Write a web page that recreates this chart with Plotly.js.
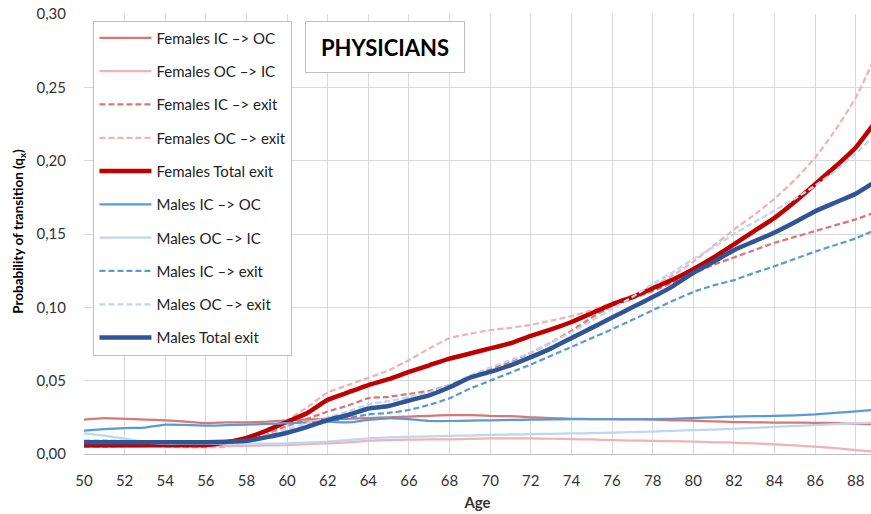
<!DOCTYPE html>
<html><head><meta charset="utf-8">
<script src="https://cdn.plot.ly/plotly-3.0.1.min.js"></script>
<style>html,body{margin:0;padding:0;background:#fff}#chart{width:871px;height:514px}</style>
</head><body><div id="chart"></div>
<script>
const ages = [50,51,52,53,54,55,56,57,58,59,60,61,62,63,64,65,66,67,68,69,70,71,72,73,74,75,76,77,78,79,80,81,82,83,84,85,86,87,88,89];
const xTicks = [50,52,54,56,58,60,62,64,66,68,70,72,74,76,78,80,82,84,86,88];
const seriesNames = ["Females IC –> OC","Females OC –> IC","Females IC –> exit","Females OC –> exit","Females Total exit","Males IC –> OC","Males OC –> IC","Males IC –> exit","Males OC –> exit","Males Total exit"];
const fIcOc = [0.0235,0.0245,0.024,0.0235,0.023,0.022,0.021,0.0215,0.0215,0.022,0.023,0.0235,0.024,0.024,0.0245,0.025,0.0255,0.026,0.0265,0.0265,0.026,0.0258,0.025,0.0245,0.024,0.0238,0.0237,0.0236,0.0235,0.023,0.0227,0.0222,0.0218,0.0216,0.0214,0.0214,0.0213,0.021,0.0205,0.0204];
const fOcIc = [0.005,0.005,0.005,0.0052,0.0055,0.0055,0.0055,0.0055,0.0056,0.0058,0.006,0.0067,0.0073,0.008,0.009,0.0095,0.0098,0.0099,0.01,0.0103,0.0107,0.0107,0.0106,0.0104,0.0102,0.0099,0.0095,0.0092,0.009,0.0087,0.0084,0.008,0.0077,0.0072,0.0066,0.0058,0.005,0.004,0.0027,0.0015];
const fIcEx = [0.005,0.005,0.0055,0.006,0.006,0.006,0.0065,0.0075,0.010,0.014,0.019,0.024,0.029,0.033,0.038,0.039,0.041,0.043,0.047,0.053,0.058,0.063,0.069,0.076,0.084,0.093,0.101,0.106,0.111,0.117,0.123,0.129,0.134,0.139,0.144,0.148,0.152,0.156,0.160,0.165];
const fOcEx = [0.007,0.007,0.007,0.006,0.005,0.0045,0.0045,0.005,0.009,0.014,0.023,0.032,0.042,0.047,0.052,0.057,0.064,0.072,0.079,0.082,0.0845,0.086,0.088,0.091,0.094,0.098,0.103,0.108,0.114,0.122,0.131,0.142,0.153,0.163,0.174,0.187,0.202,0.221,0.243,0.272];
const fTot = [0.006,0.006,0.006,0.006,0.006,0.006,0.006,0.008,0.011,0.016,0.022,0.028,0.037,0.042,0.047,0.051,0.056,0.0605,0.065,0.0685,0.072,0.0755,0.0805,0.085,0.090,0.096,0.102,0.107,0.113,0.119,0.126,0.134,0.143,0.152,0.161,0.172,0.184,0.196,0.209,0.227];
const mIcOc = [0.016,0.017,0.0177,0.018,0.020,0.0198,0.0193,0.0197,0.020,0.0205,0.021,0.0215,0.022,0.0215,0.0232,0.0243,0.0238,0.0225,0.0225,0.0228,0.023,0.0232,0.0234,0.0236,0.0237,0.0237,0.0237,0.0237,0.0238,0.024,0.0245,0.025,0.0255,0.0258,0.026,0.0264,0.027,0.028,0.029,0.0302];
const mOcIc = [0.014,0.0125,0.0105,0.008,0.007,0.007,0.007,0.007,0.007,0.007,0.0073,0.0078,0.0084,0.0095,0.0107,0.0113,0.0118,0.012,0.0123,0.0126,0.013,0.0133,0.0136,0.0138,0.014,0.0143,0.0146,0.015,0.0153,0.0158,0.0163,0.0167,0.0172,0.0178,0.0185,0.0191,0.0197,0.0203,0.0209,0.0216];
const mIcEx = [0.0085,0.0085,0.0085,0.008,0.0078,0.0078,0.0078,0.008,0.0085,0.011,0.015,0.0185,0.022,0.0245,0.027,0.028,0.030,0.0335,0.038,0.0445,0.050,0.0555,0.061,0.067,0.073,0.079,0.085,0.0915,0.098,0.1045,0.1105,0.115,0.1185,0.1235,0.128,0.133,0.138,0.1425,0.147,0.153];
const mOcEx = [0.0095,0.0095,0.009,0.0085,0.008,0.008,0.008,0.0082,0.009,0.012,0.017,0.021,0.025,0.029,0.034,0.036,0.039,0.042,0.047,0.0535,0.059,0.064,0.069,0.076,0.083,0.091,0.099,0.107,0.116,0.124,0.133,0.141,0.150,0.158,0.166,0.174,0.183,0.193,0.205,0.218];
const mTot = [0.008,0.008,0.008,0.008,0.008,0.008,0.008,0.0083,0.009,0.0115,0.0145,0.0185,0.0232,0.0266,0.031,0.0327,0.0365,0.040,0.0455,0.052,0.056,0.0605,0.066,0.072,0.079,0.086,0.093,0.100,0.107,0.1145,0.1235,0.131,0.139,0.145,0.151,0.158,0.1655,0.1715,0.1775,0.186];

const values = [fIcOc,fOcIc,fIcEx,fOcEx,fTot,mIcOc,mOcIc,mIcEx,mOcEx,mTot];
const colors = ["#dc7676","#f0b2b2","#dc7676","#f0b2b2","#c00000","#5b9bd5","#bdd7ee","#5b9bd5","#bdd7ee","#2f5597"];
const dashes = ["solid","solid","6px,3px","6px,3px","solid","solid","solid","6px,3px","6px,3px","solid"];
const widths = [2.25,2.25,2.25,2.25,4.5,2.25,2.25,2.25,2.25,4.5];

const traces = values.map((v,i)=>({
  type:"scatter", mode:"lines", x:ages, y:v, name:seriesNames[i],
  legendgroup:"g"+i,
  line:{color:colors[i], width:widths[i], dash:dashes[i], shape:"spline", smoothing:0.4}
}));

const FONT = "Lato, 'Open Sans', sans-serif";
const layout = {
  width:871, height:514,
  margin:{l:83.5, r:0, t:13.5, b:60},
  paper_bgcolor:"#fff", plot_bgcolor:"#fff",
  font:{family:FONT, size:15, color:"#333"},
  separators:", ",
  showlegend:true,
  xaxis:{
    range:[50,88.75], tickvals:xTicks, ticktext:xTicks.map(String),
    showgrid:true, gridcolor:"#d9d9d9", gridwidth:1,
    showline:true, linecolor:"#bfbfbf", linewidth:1, zeroline:false,
    ticks:"outside", ticklen:13, tickcolor:"rgba(0,0,0,0)",
    tickfont:{family:FONT, size:15, color:"#333"},
    title:{text:"<b>Age</b>", font:{family:FONT, size:15, color:"#333"}, standoff:9}
  },
  yaxis:{
    range:[0,0.30], dtick:0.05, tickformat:".2f",
    showgrid:true, gridcolor:"#d9d9d9", gridwidth:1,
    showline:false, zeroline:false,
    ticks:"outside", ticklen:14, tickcolor:"rgba(0,0,0,0)",
    tickfont:{family:FONT, size:15, color:"#333"}
  },
  legend:{
    x:0.012, y:0.985, xanchor:"left", yanchor:"top",
    bgcolor:"#fff", bordercolor:"#bfbfbf", borderwidth:1,
    font:{family:FONT, size:15, color:"#222"},
    tracegroupgap:10.8, itemwidth:52, traceorder:"grouped"
  },
  annotations:[{
    xref:"paper", yref:"paper", x:0.383, y:0.925, xanchor:"center", yanchor:"middle",
    text:"<b>PHYSICIANS</b>", showarrow:false,
    font:{family:FONT, size:22, color:"#000"},
    bgcolor:"#fff", bordercolor:"#bfbfbf", borderwidth:1,
    width:156, height:48
  },{
    xref:"paper", yref:"paper", x:-0.0825, y:0.505, xanchor:"center", yanchor:"middle",
    textangle:-90, showarrow:false,
    text:"<b>Probability of transition (q<sub>x</sub>)</b>",
    font:{family:FONT, size:13.5, color:"#000"}
  }]
};
Plotly.newPlot("chart", traces, layout, {displayModeBar:false, staticPlot:true});
</script>
</body></html>
